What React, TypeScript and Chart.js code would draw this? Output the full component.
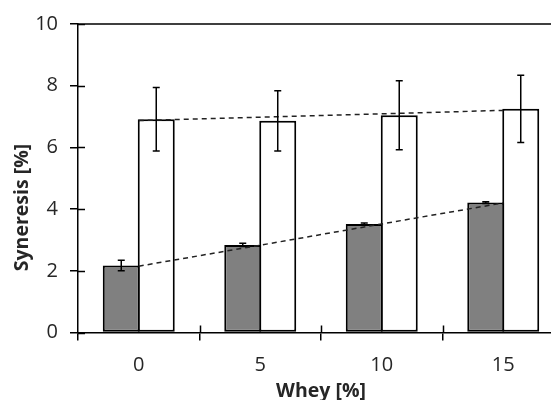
import React, { useEffect, useRef } from "react";
import { Chart, registerables } from "chart.js";

Chart.register(...registerables);

const categories = ["0", "5", "10", "15"];
const grayValues = [2.17, 2.84, 3.52, 4.21];
const grayErrors = [0.17, 0.05, 0.03, 0.03];
const whiteValues = [6.91, 6.86, 7.04, 7.25];
const whiteErrors = [1.03, 0.98, 1.12, 1.09];
const grayTrend = [2.15, 2.83, 3.52, 4.2];
const whiteTrend = [6.87, 6.98, 7.09, 7.2];
const yTicks = [0, 2, 4, 6, 8, 10];

const FONT = "'Open Sans', 'DejaVu Sans', sans-serif";
const TEXT = "#262626";

const decor = {
  id: "decor",
  afterDatasetsDraw(chart: any) {
    const ctx = chart.ctx;
    const ys = chart.scales.y;
    const sets: [number, number[], number[]][] = [
      [0, grayValues, grayErrors],
      [1, whiteValues, whiteErrors],
    ];
    ctx.save();
    ctx.strokeStyle = "#000";
    ctx.lineWidth = 1.5;
    sets.forEach(([di, vals, errs]) => {
      const meta = chart.getDatasetMeta(di);
      meta.data.forEach((el: any, i: number) => {
        const cx = el.x;
        const t = ys.getPixelForValue(vals[i] + errs[i]);
        const b = ys.getPixelForValue(vals[i] - errs[i]);
        ctx.beginPath();
        ctx.moveTo(cx, t);
        ctx.lineTo(cx, b);
        ctx.moveTo(cx - 3.5, t);
        ctx.lineTo(cx + 3.5, t);
        ctx.moveTo(cx - 3.5, b);
        ctx.lineTo(cx + 3.5, b);
        ctx.stroke();
      });
    });
    ctx.restore();
  },
  afterDraw(chart: any) {
    const ctx = chart.ctx;
    const ca = chart.chartArea;
    const ys = chart.scales.y;
    const xs = chart.scales.x;
    ctx.save();
    ctx.strokeStyle = "#000";
    ctx.lineWidth = 1.5;
    ctx.beginPath();
    ctx.moveTo(ca.left, ca.top);
    ctx.lineTo(ca.right, ca.top);
    yTicks.forEach((v) => {
      const p = Math.round(ys.getPixelForValue(v)) + 0.5;
      ctx.moveTo(ca.left, p);
      ctx.lineTo(ca.left + 7, p);
    });
    for (let i = 1; i < categories.length; i++) {
      const p = Math.round(xs.getPixelForValue(i - 0.5)) + 0.5;
      ctx.moveTo(p, ca.bottom);
      ctx.lineTo(p, ca.bottom - 7);
    }
    ctx.stroke();

    ctx.fillStyle = TEXT;
    ctx.font = `bold 19.5px ${FONT}`;
    ctx.textAlign = "center";
    ctx.textBaseline = "middle";
    ctx.fillText("Whey [%]", (ca.left + ca.right) / 2, ca.bottom + 59);
    ctx.translate(ca.left - 56, ys.getPixelForValue(4.05));
    ctx.rotate(-Math.PI / 2);
    ctx.fillText("Syneresis [%]", 0, 0);
    ctx.restore();
  },
};

export default function App() {
  const ref = useRef<HTMLCanvasElement | null>(null);

  useEffect(() => {
    if (!ref.current) return;
    const barCommon = {
      borderColor: "#000",
      borderWidth: 2,
      borderSkipped: false,
      categoryPercentage: 0.576,
      barPercentage: 1.057,
      order: 2,
    };
    const lineCommon = {
      borderColor: "#222",
      borderWidth: 1.5,
      borderDash: [5, 4],
      pointRadius: 0,
      fill: false,
      order: 1,
    };
    const chart = new Chart(ref.current, {
      type: "bar",
      data: {
        labels: categories,
        datasets: [
          { type: "bar", data: grayValues, backgroundColor: "#808080", ...barCommon } as any,
          { type: "bar", data: whiteValues, backgroundColor: "#ffffff", ...barCommon } as any,
          { type: "line", data: grayTrend, ...lineCommon } as any,
          { type: "line", data: whiteTrend, ...lineCommon } as any,
        ],
      },
      options: {
        animation: false,
        responsive: false,
        devicePixelRatio: 1,
        layout: { padding: { left: 0, top: 22, right: 36, bottom: 0 } },
        plugins: {
          legend: { display: false },
          tooltip: { enabled: false },
        },
        scales: {
          x: {
            offset: true,
            grid: {
              display: true,
              offset: true,
              drawOnChartArea: false,
              drawTicks: true,
              tickLength: 8,
              color: "#000",
              lineWidth: 1.5,
            },
            border: { display: true, color: "#000", width: 1.5 },
            ticks: {
              color: TEXT,
              font: { family: FONT, size: 20 },
              padding: 13,
              maxRotation: 0,
            },
            afterFit(scale: any) {
              scale.height = 67.5;
            },
          },
          y: {
            min: 0,
            max: 10,
            grid: {
              display: true,
              drawOnChartArea: false,
              drawTicks: true,
              tickLength: 8,
              color: "#000",
              lineWidth: 1.5,
            },
            border: { display: true, color: "#000", width: 1.5 },
            ticks: {
              stepSize: 2,
              color: TEXT,
              font: { family: FONT, size: 20 },
              padding: 12,
            },
            afterFit(scale: any) {
              scale.width = 78;
            },
          },
        },
      },
      plugins: [decor],
    });
    return () => chart.destroy();
  }, []);

  return (
    <div
      style={{
        position: "fixed",
        left: 0,
        top: 0,
        width: 551,
        height: 400,
        overflow: "hidden",
        background: "#fff",
      }}
    >
      <canvas ref={ref} width={600} height={400} style={{ width: 600, height: 400, display: "block" }} />
    </div>
  );
}
